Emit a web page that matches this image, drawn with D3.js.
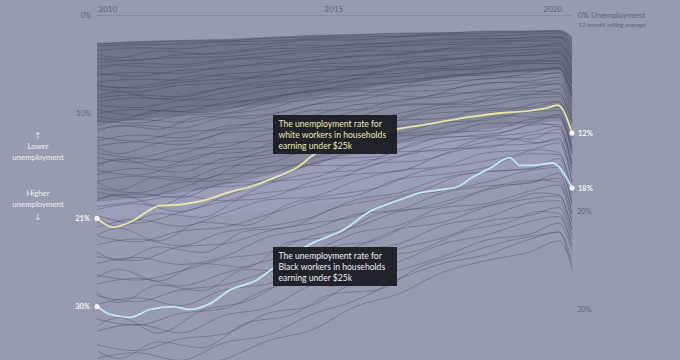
<!DOCTYPE html>
<html>
<head>
<meta charset="utf-8">
<script src="https://cdn.jsdelivr.net/npm/d3@7"></script>
<style>
  body { margin: 0; background: #979bb2; }
  svg { display: block; font-family: Lato, "Open Sans", sans-serif; }
</style>
</head>
<body>
<svg id="chart"></svg>
<script>
// sample dates (decimal years) for the first set of background series
const bgDates = [2009.6, 2010.5, 2011.5, 2012.5, 2013.5, 2014.5, 2015.5, 2016.5, 2017.5, 2018.5, 2019.5, 2020.15, 2020.45];

// every other group, unemployment %, 12-month rolling average
const bgSeries = [
  [2.9, 2.8, 2.6, 2.6, 2.3, 2.2, 2.0, 1.8, 1.8, 1.6, 1.6, 1.5, 2.2],
  [3.6, 3.3, 3.4, 3.0, 2.9, 2.5, 2.5, 2.2, 2.0, 2.1, 1.9, 1.8, 3.0],
  [4.4, 4.6, 4.0, 3.9, 3.4, 3.3, 2.9, 2.8, 2.5, 2.4, 2.3, 2.2, 3.4],
  [5.2, 4.9, 5.0, 4.5, 4.2, 3.7, 3.6, 3.1, 3.0, 2.8, 2.6, 2.6, 4.1],
  [5.9, 6.2, 5.6, 5.4, 4.8, 4.6, 4.1, 3.9, 3.4, 3.3, 3.2, 2.9, 4.9],
  [6.8, 6.5, 6.6, 6.0, 5.7, 5.0, 4.8, 4.3, 4.1, 3.7, 3.5, 3.4, 5.3],
  [7.5, 7.8, 7.1, 6.9, 6.1, 5.9, 5.2, 5.0, 4.5, 4.3, 4.0, 3.9, 6.2],
  [8.4, 8.1, 8.3, 7.4, 7.0, 6.3, 6.1, 5.4, 5.2, 4.7, 4.6, 4.3, 6.6],
  [9.1, 9.4, 8.7, 8.5, 7.6, 7.2, 6.5, 6.2, 5.6, 5.4, 4.9, 4.9, 7.5],
  [10.0, 9.6, 9.8, 8.9, 8.5, 7.6, 7.3, 6.6, 6.3, 5.8, 5.6, 5.3, 7.9],
  [10.7, 11.0, 10.2, 10.0, 9.0, 8.6, 7.7, 7.4, 6.7, 6.5, 6.0, 5.9, 8.8],
  [11.6, 11.2, 11.5, 10.4, 10.1, 9.1, 8.7, 7.8, 7.6, 6.9, 6.7, 6.3, 9.1],
  [12.4, 12.8, 11.9, 11.6, 10.6, 10.2, 9.1, 8.8, 8.0, 7.8, 7.1, 7.0, 10.2],
  [13.3, 12.9, 13.2, 12.0, 11.7, 10.5, 10.3, 9.2, 9.0, 8.2, 8.0, 7.5, 10.6],
  [14.0, 14.5, 13.6, 13.4, 12.1, 11.8, 10.7, 10.4, 9.4, 9.2, 8.4, 8.3, 11.8],
  [15.1, 14.6, 14.9, 13.7, 13.4, 12.1, 11.9, 10.7, 10.5, 9.5, 9.4, 8.8, 12.0],
  [15.8, 16.3, 15.3, 15.0, 13.8, 13.4, 12.2, 12.0, 10.9, 10.7, 9.8, 9.7, 13.4],
  [16.9, 16.4, 16.8, 15.4, 15.1, 13.6, 13.5, 12.3, 12.1, 11.0, 10.9, 10.2, 13.6],
  [17.6, 18.1, 17.0, 16.8, 15.4, 15.2, 13.8, 13.6, 12.4, 12.3, 11.2, 11.1, 15.0],
  [18.7, 18.2, 18.6, 17.1, 16.9, 15.3, 15.3, 13.9, 13.8, 12.5, 12.6, 11.6, 15.1],
  [19.5, 19.0, 18.4, 18.9, 17.2, 16.1, 15.8, 14.4, 13.6, 13.5, 12.2, 12.0, 15.8],
  [20.4, 21.2, 20.1, 19.0, 18.6, 17.0, 16.2, 15.9, 14.2, 13.3, 13.1, 12.7, 16.2],
  [21.6, 20.8, 21.5, 20.2, 18.8, 18.5, 16.9, 15.8, 15.4, 14.0, 13.7, 13.0, 17.0],
  [22.5, 23.1, 22.0, 21.6, 20.3, 18.9, 18.4, 16.7, 16.2, 15.5, 14.1, 14.2, 17.8],
  [23.4, 22.8, 23.5, 22.1, 21.5, 20.6, 18.8, 18.1, 16.6, 15.9, 15.7, 14.6, 18.9],
  [24.6, 25.0, 23.6, 23.3, 22.0, 21.2, 20.5, 18.6, 17.9, 17.0, 15.8, 15.5, 19.2],
  [25.3, 24.7, 25.4, 24.6, 22.6, 21.8, 20.3, 19.8, 18.1, 17.4, 17.1, 16.1, 20.3],
  [26.5, 27.0, 26.1, 24.8, 24.2, 22.5, 21.6, 20.0, 19.4, 17.8, 17.0, 16.6, 20.1],
  [27.4, 26.8, 27.6, 26.3, 25.0, 24.1, 22.2, 21.4, 19.6, 19.2, 17.9, 17.3, 21.2],
  [28.6, 29.2, 28.0, 27.5, 26.1, 24.4, 23.6, 21.8, 21.1, 19.5, 18.7, 18.4, 21.8],
  [29.5, 28.8, 29.6, 28.0, 27.4, 25.9, 24.0, 23.3, 21.4, 20.6, 19.1, 18.9, 22.5],
  [31.0, 31.6, 30.4, 29.9, 27.9, 26.8, 25.6, 23.8, 22.7, 21.0, 20.4, 19.6, 22.8],
  [32.2, 31.5, 32.4, 30.6, 29.8, 27.5, 26.3, 25.1, 23.3, 22.4, 21.0, 20.5, 23.6],
  [33.6, 34.2, 33.0, 32.5, 30.4, 29.6, 27.2, 26.0, 24.6, 22.9, 22.3, 21.2, 24.0],
  [35.0, 34.4, 35.2, 33.4, 32.6, 30.5, 29.1, 26.9, 25.3, 24.4, 22.8, 22.1, 25.0],
  [36.5, 37.0, 35.8, 35.1, 33.2, 32.1, 29.7, 28.4, 26.2, 25.0, 24.1, 23.0, 25.5],
  [3.1, 3.0, 2.9, 2.7, 2.6, 2.4, 2.2, 2.1, 1.9, 1.8, 1.7, 1.6, 2.6],
  [4.8, 4.5, 4.3, 4.2, 3.8, 3.5, 3.3, 3.0, 2.8, 2.6, 2.5, 2.3, 3.8],
  [6.1, 5.8, 5.9, 5.2, 5.0, 4.6, 4.2, 4.0, 3.6, 3.5, 3.2, 3.1, 4.5],
  [7.2, 7.4, 6.8, 6.5, 6.3, 5.6, 5.5, 4.8, 4.6, 4.1, 4.1, 3.7, 5.8],
  [8.8, 8.4, 8.6, 7.9, 7.2, 6.9, 6.1, 5.9, 5.4, 5.1, 4.8, 4.6, 7.0],
  [9.6, 10.2, 9.3, 9.1, 8.3, 7.8, 7.0, 6.9, 6.1, 5.9, 5.5, 5.4, 8.2],
  [11.2, 10.6, 10.9, 10.1, 9.5, 8.4, 8.2, 7.2, 7.1, 6.4, 6.3, 5.8, 8.6],
  [12.8, 12.2, 12.5, 11.3, 10.9, 9.7, 9.6, 8.6, 8.3, 7.6, 7.4, 6.9, 9.8],
  [14.5, 15.0, 14.1, 13.0, 12.8, 11.2, 10.8, 10.0, 9.1, 8.7, 8.1, 8.0, 11.0],
  [16.2, 15.6, 16.0, 14.6, 14.2, 12.9, 12.6, 11.3, 10.9, 10.0, 9.6, 9.4, 12.6],
  [18.0, 18.6, 17.6, 16.2, 16.0, 14.6, 13.5, 12.8, 11.9, 11.8, 10.6, 10.4, 14.0],
  [19.8, 19.2, 20.0, 18.5, 17.0, 16.6, 15.0, 14.3, 13.0, 12.4, 11.9, 11.3, 15.2]
];

// second set, sampled on other dates so the lines cross
const bgDates2 = [2009.6, 2010.1, 2011.0, 2012.0, 2013.0, 2014.0, 2015.0, 2016.0, 2017.0, 2018.0, 2019.0, 2019.7, 2020.15, 2020.45];
const bgSeries2 = [
  [4.0, 4.3, 3.6, 3.9, 3.5, 3.0, 3.1, 2.9, 2.5, 2.3, 2.4, 2.1, 2.1, 3.3],
  [5.5, 5.1, 5.3, 5.0, 4.4, 4.5, 3.9, 3.6, 3.7, 3.1, 2.9, 3.0, 2.8, 4.4],
  [7.0, 7.4, 6.9, 6.1, 6.3, 5.4, 5.2, 5.3, 4.4, 4.3, 3.9, 3.7, 3.6, 5.6],
  [8.2, 7.8, 8.5, 7.8, 7.0, 6.6, 6.8, 5.9, 5.4, 5.5, 4.8, 4.6, 4.7, 6.9],
  [10.3, 10.6, 9.7, 9.9, 9.1, 8.0, 7.6, 7.8, 6.7, 6.1, 6.2, 5.6, 5.4, 8.1],
  [11.9, 11.2, 11.6, 10.3, 10.5, 9.7, 8.6, 8.1, 8.3, 7.2, 6.8, 6.9, 6.6, 9.4],
  [13.5, 14.1, 13.0, 12.6, 11.4, 11.6, 10.3, 9.4, 9.0, 9.1, 7.9, 7.7, 7.9, 10.9],
  [15.4, 14.6, 15.5, 14.2, 13.9, 12.4, 12.1, 11.3, 10.1, 9.8, 9.6, 8.9, 8.8, 12.4],
  [17.0, 17.8, 16.4, 16.7, 14.9, 14.2, 13.8, 12.3, 11.9, 11.0, 10.2, 10.4, 10.1, 14.1],
  [18.9, 18.2, 19.4, 17.6, 17.3, 15.9, 14.6, 14.4, 12.8, 12.3, 11.8, 11.0, 11.4, 15.6],
  [20.8, 21.5, 20.2, 20.6, 18.4, 17.8, 16.9, 15.1, 14.8, 13.4, 12.6, 13.0, 12.5, 16.9],
  [22.4, 21.7, 23.0, 21.1, 21.4, 19.2, 18.3, 17.6, 15.9, 15.2, 14.4, 13.7, 14.0, 18.2],
  [24.1, 25.0, 23.6, 24.2, 22.0, 21.6, 19.7, 18.8, 17.9, 16.2, 15.8, 15.5, 15.2, 19.4],
  [26.7, 25.9, 27.1, 25.3, 25.7, 23.1, 22.5, 20.3, 19.6, 18.4, 17.1, 16.8, 17.0, 20.8],
  [28.3, 29.3, 27.5, 28.1, 25.9, 26.2, 23.6, 22.9, 20.7, 19.9, 18.9, 18.1, 18.3, 21.9],
  [31.7, 30.8, 32.4, 30.1, 29.2, 27.3, 27.6, 24.8, 23.9, 22.0, 21.1, 20.0, 20.2, 23.4],
  [34.2, 35.0, 33.3, 33.9, 31.4, 30.6, 28.4, 28.0, 25.6, 24.3, 23.0, 22.4, 22.1, 25.9]
];

// where the bundle is densest, on bgDates
const bandTop   = [2.8, 2.6, 2.5, 2.4, 2.2, 2.0, 1.9, 1.8, 1.7, 1.6, 1.55, 1.5, 2.2];
const bandCore  = [11.0, 10.6, 10.2, 9.6, 9.0, 8.3, 7.6, 7.0, 6.5, 6.1, 5.8, 5.6, 8.4];
const bandDense = [19.0, 18.6, 18.1, 17.3, 16.3, 15.2, 14.1, 13.1, 12.3, 11.6, 11.1, 10.8, 14.6];
const bandWide  = [20.5, 20.6, 20.6, 20.4, 19.9, 19.3, 18.6, 17.9, 17.2, 16.6, 16.1, 15.9, 19.2];

// white workers, households earning under $25k
const whiteDates = [2009.6, 2009.97, 2010.35, 2011.04, 2011.49, 2012.02, 2012.64, 2013.09, 2013.62, 2014.17, 2014.62, 2015.15, 2015.83, 2016.45, 2017.27, 2018.05, 2018.8, 2019.42, 2019.87, 2020.12, 2020.24, 2020.45];
const whiteRate  = [20.7, 21.6, 21.1, 19.4, 19.3, 18.9, 18.0, 17.5, 16.6, 15.5, 14.0, 13.3, 12.3, 11.6, 11.0, 10.4, 9.95, 9.75, 9.45, 9.15, 9.6, 12.0];

// Black workers, households earning under $25k
const blackDates = [2009.6, 2009.9, 2010.35, 2010.81, 2011.34, 2011.72, 2012.18, 2012.64, 2013.25, 2013.62, 2014.53, 2015.22, 2015.83, 2016.52, 2016.97, 2017.43, 2017.82, 2018.18, 2018.57, 2019.03, 2019.26, 2019.55, 2020.01, 2020.12, 2020.45];
const blackRate  = [29.7, 30.5, 30.8, 30.0, 29.7, 30.0, 29.4, 28.0, 27.0, 25.8, 23.2, 21.9, 20.0, 18.8, 18.1, 17.8, 17.5, 16.5, 15.6, 14.5, 15.3, 15.3, 15.05, 15.3, 17.6];

const yearTicks = [2010, 2015, 2020];
const leftTicks = [0, 10];
const rightTicks = [20, 30];

const W = 680, H = 360;
const svg = d3.select('#chart').attr('width', W).attr('height', H);

const x = d3.scaleLinear().domain([2009.6, 2020.45]).range([97, 572]);
const y = d3.scaleLinear().domain([0, 30]).range([15.5, 309.5]);

svg.append('rect').attr('width', W).attr('height', H).attr('fill', '#979bb2');

// 0% baseline
svg.append('line')
  .attr('x1', x(2009.6)).attr('x2', x(2020.45))
  .attr('y1', y(0)).attr('y2', y(0))
  .attr('stroke', '#868aa1').attr('stroke-width', 1);

// x axis (years on top)
const xAxis = svg.append('g')
  .attr('transform', `translate(0, 12)`)
  .call(d3.axisTop(x).tickValues(yearTicks).tickSize(0).tickPadding(0).tickFormat(d3.format('d')));
xAxis.select('.domain').remove();
xAxis.selectAll('text')
  .attr('fill', '#5e6377').attr('font-size', 8).attr('font-family', 'Lato, sans-serif');
xAxis.selectAll('.tick').filter(d => d === 2010).select('text').attr('text-anchor', 'start').attr('x', 1 - (x(2010) - 97));

// density bands
const band = (lo, hi) => d3.area()
  .x((d, i) => x(bgDates[i]))
  .y0((d, i) => y(lo[i]))
  .y1((d, i) => y(hi[i]))
  .curve(d3.curveMonotoneX)(bgDates);

svg.append('path').attr('d', band(bandDense, bandWide)).attr('fill', '#b2acd6').attr('opacity', 0.18);
svg.append('path').attr('d', band(bandTop, bandDense)).attr('fill', '#4b4e66').attr('opacity', 0.22);
svg.append('path').attr('d', band(bandTop, bandCore)).attr('fill', '#3f4258').attr('opacity', 0.3);

// background lines
const bgLine = (dates) => d3.line()
  .x((d, i) => x(dates[i]))
  .y(d => y(d))
  .curve(d3.curveMonotoneX);

svg.append('g')
  .selectAll('path')
  .data(bgSeries)
  .join('path')
  .attr('d', bgLine(bgDates))
  .attr('fill', 'none')
  .attr('stroke', '#34374b')
  .attr('stroke-width', 0.75)
  .attr('opacity', 0.45);

svg.append('g')
  .selectAll('path')
  .data(bgSeries2)
  .join('path')
  .attr('d', bgLine(bgDates2))
  .attr('fill', 'none')
  .attr('stroke', '#3a3a55')
  .attr('stroke-width', 0.75)
  .attr('opacity', 0.45);

// highlighted lines
const hiLine = (dates) => d3.line()
  .x((d, i) => x(dates[i]))
  .y(d => y(d))
  .curve(d3.curveMonotoneX);

svg.append('path').datum(whiteRate).attr('d', hiLine(whiteDates))
  .attr('fill', 'none').attr('stroke', '#e7e8a2').attr('stroke-width', 1.8);
svg.append('path').datum(blackRate).attr('d', hiLine(blackDates))
  .attr('fill', 'none').attr('stroke', '#c4e6f2').attr('stroke-width', 1.8);

const ends = [
  [whiteDates[0], whiteRate[0]], [whiteDates[whiteDates.length - 1], whiteRate[whiteRate.length - 1]],
  [blackDates[0], blackRate[0]], [blackDates[blackDates.length - 1], blackRate[blackRate.length - 1]]
];
svg.append('g').selectAll('circle').data(ends).join('circle')
  .attr('cx', d => x(d[0])).attr('cy', d => y(d[1])).attr('r', 2.6).attr('fill', '#f4f5f8');

// end value labels
const valLabel = (xx, v, anchor) => svg.append('text')
  .attr('x', xx).attr('y', y(v)).attr('dy', '0.35em')
  .attr('text-anchor', anchor)
  .attr('fill', '#f5f6f9').attr('font-size', 7.5).attr('font-weight', 700)
  .text(Math.round(v) + '%');
valLabel(90, whiteRate[0], 'end');
valLabel(90, blackRate[0], 'end');
valLabel(578, whiteRate[whiteRate.length - 1], 'start');
valLabel(578, blackRate[blackRate.length - 1], 'start');

// y axes
const yl = svg.append('g').attr('transform', 'translate(91,0)')
  .call(d3.axisLeft(y).tickValues(leftTicks).tickSize(0).tickPadding(0).tickFormat(d => d + '%'));
const yr = svg.append('g').attr('transform', 'translate(577,0)')
  .call(d3.axisRight(y).tickValues(rightTicks).tickSize(0).tickPadding(0).tickFormat(d => d + '%'));
[yl, yr].forEach(g => {
  g.select('.domain').remove();
  g.selectAll('text').attr('fill', '#5e6377').attr('font-size', 7.5).attr('font-family', 'Lato, sans-serif');
});

svg.append('text').attr('x', 578).attr('y', 18).attr('fill', '#5a5f73').attr('font-size', 8)
  .text('0% Unemployment');
svg.append('text').attr('x', 578).attr('y', 27).attr('fill', '#5a5f73').attr('font-size', 6.5)
  .attr('font-style', 'italic').text('12-month rolling average');

// left direction note
const note = [['↑', 135], ['Lower', 146], ['unemployment', 157], ['Higher', 193], ['unemployment', 204], ['↓', 216]];
svg.append('g').selectAll('text').data(note).join('text')
  .attr('x', 38).attr('y', d => d[1]).attr('dy', '0.35em')
  .attr('text-anchor', 'middle').attr('fill', '#eef0f5').attr('font-size', 7.8)
  .text(d => d[0]);

// annotation boxes
const boxes = [
  { x0: 273, y0: 115, color: '#ecebb0', lines: ['The unemployment rate for', 'white workers in households', 'earning under $25k'] },
  { x0: 273, y0: 247, color: '#eef0f4', lines: ['The unemployment rate for', 'Black workers in households', 'earning under $25k'] }
];
boxes.forEach(b => {
  const g = svg.append('g').attr('transform', `translate(${b.x0},${b.y0})`);
  g.append('rect').attr('width', 124).attr('height', 39).attr('fill', '#1b1c23').attr('opacity', 0.95);
  g.selectAll('text').data(b.lines).join('text')
    .attr('x', 5.5).attr('y', (d, i) => 8.5 + i * 11.3).attr('dy', '0.35em')
    .attr('fill', b.color).attr('font-size', 8.6)
    .text(d => d);
});
</script>
</body>
</html>
